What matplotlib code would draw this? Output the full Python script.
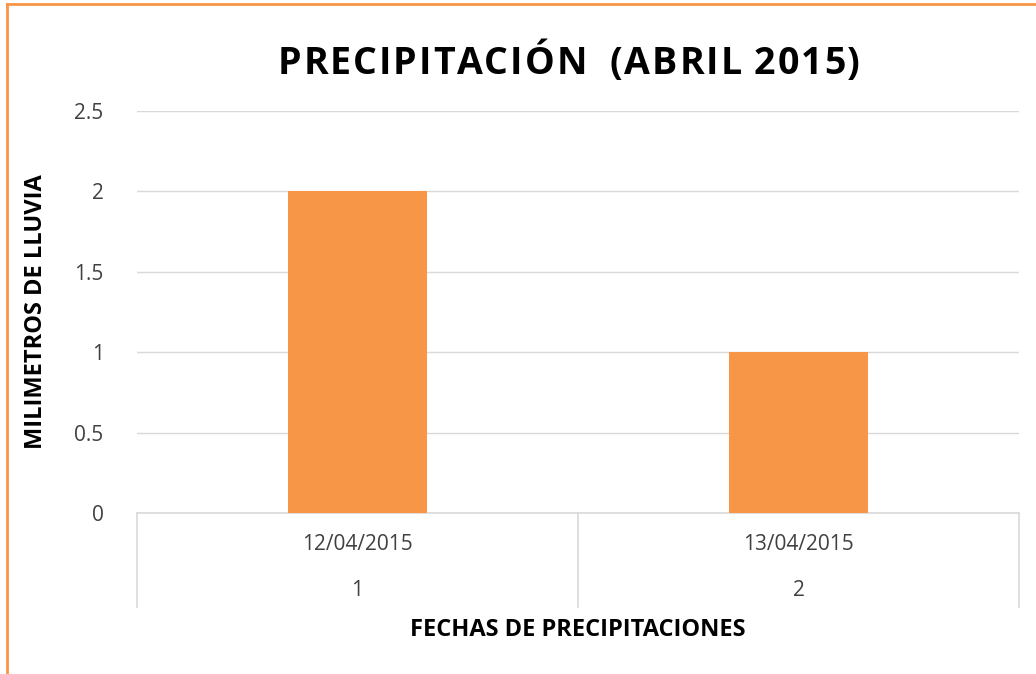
import matplotlib
matplotlib.use("Agg")
import matplotlib.pyplot as plt
from matplotlib.lines import Line2D

dates = ["12/04/2015", "13/04/2015"]
indices = ["1", "2"]
values = [2, 1]
yticks = [0, 0.5, 1, 1.5, 2, 2.5]
ytick_labels = ["0", "0.5", "1", "1.5", "2", "2.5"]
title = "PRECIPITACIÓN  (ABRIL 2015)"

W, H = 1036, 674
fig = plt.figure(figsize=(W / 100, H / 100), dpi=100)
font = "Open Sans"
txt = "#404040"

L, R, T, B = 137, 1019, 111, 513
ax = fig.add_axes([L / W, 1 - B / H, (R - L) / W, (B - T) / H])
x = list(range(len(values)))
ax.bar(x, values, width=0.313, color="#F79646", zorder=3)
ax.set_xlim(-0.5, len(values) - 0.5)
ax.set_ylim(0, 2.5)
ax.set_yticks(yticks)
ax.set_yticklabels(ytick_labels, fontname=font, fontsize=15, color=txt)
ax.tick_params(axis="y", length=0, pad=24)
ax.set_xticks([])
for s in ["top", "right", "left"]:
    ax.spines[s].set_visible(False)
ax.spines["bottom"].set_color("#d9d9d9")
ax.spines["bottom"].set_linewidth(1.2)
ax.grid(axis="y", color="#d9d9d9", linewidth=1.0, zorder=0)
ax.set_axisbelow(True)

# multi-level category axis
trans = ax.get_xaxis_transform()
for b in [-0.5 + i for i in range(len(values) + 1)]:
    ax.add_line(Line2D([b, b], [0, -94 / (B - T)], transform=trans,
                       color="#d9d9d9", linewidth=1.2, clip_on=False))
for i, (d, n) in enumerate(zip(dates, indices)):
    ax.text(i, -32 / (B - T), d, transform=trans, ha="center", va="center",
            fontname=font, fontsize=15, color=txt)
    ax.text(i, -78 / (B - T), n, transform=trans, ha="center", va="center",
            fontname=font, fontsize=15, color=txt)

# title with letter spacing (character by character)
renderer = fig.canvas.get_renderer()
tkw = dict(fontname=font, fontweight="bold", fontsize=27, color="black",
           va="baseline", ha="left")
chars = []
for ch in title:
    t = fig.text(0, 1 - 74 / H, ch if ch != " " else "\u00a0", **tkw)
    w = t.get_window_extent(renderer).width if ch != " " else None
    chars.append((t, w))
probe = fig.text(0, 0, "n", **tkw)
sw = probe.get_window_extent(renderer).width * 0.35
probe.remove()
widths = [w if w is not None else sw for _, w in chars]
x0, x1 = 278, 860
natural = sum(widths)
track = (x1 - x0 - natural) / (len(widths) - 1)
pos = x0
for (t, _), w in zip(chars, widths):
    t.set_x(pos / W)
    pos += w + track

fig.text(578 / W, 1 - 630 / H, "FECHAS DE PRECIPITACIONES", ha="center",
         va="center", fontname=font, fontweight="bold", fontsize=17, color="black")
fig.text(36 / W, 1 - 312 / H, "MILIMETROS DE LLUVIA", ha="center",
         va="center", rotation=90, fontname=font, fontweight="bold",
         fontsize=17, color="black")

# orange frame (top and left visible)
fig.add_artist(Line2D([7 / W, 7 / W], [0, 1 - 4 / H], transform=fig.transFigure,
                      color="#F79646", linewidth=2))
fig.add_artist(Line2D([7 / W, 1], [1 - 4 / H, 1 - 4 / H], transform=fig.transFigure,
                      color="#F79646", linewidth=2))

fig.savefig("out.png", dpi=100)
